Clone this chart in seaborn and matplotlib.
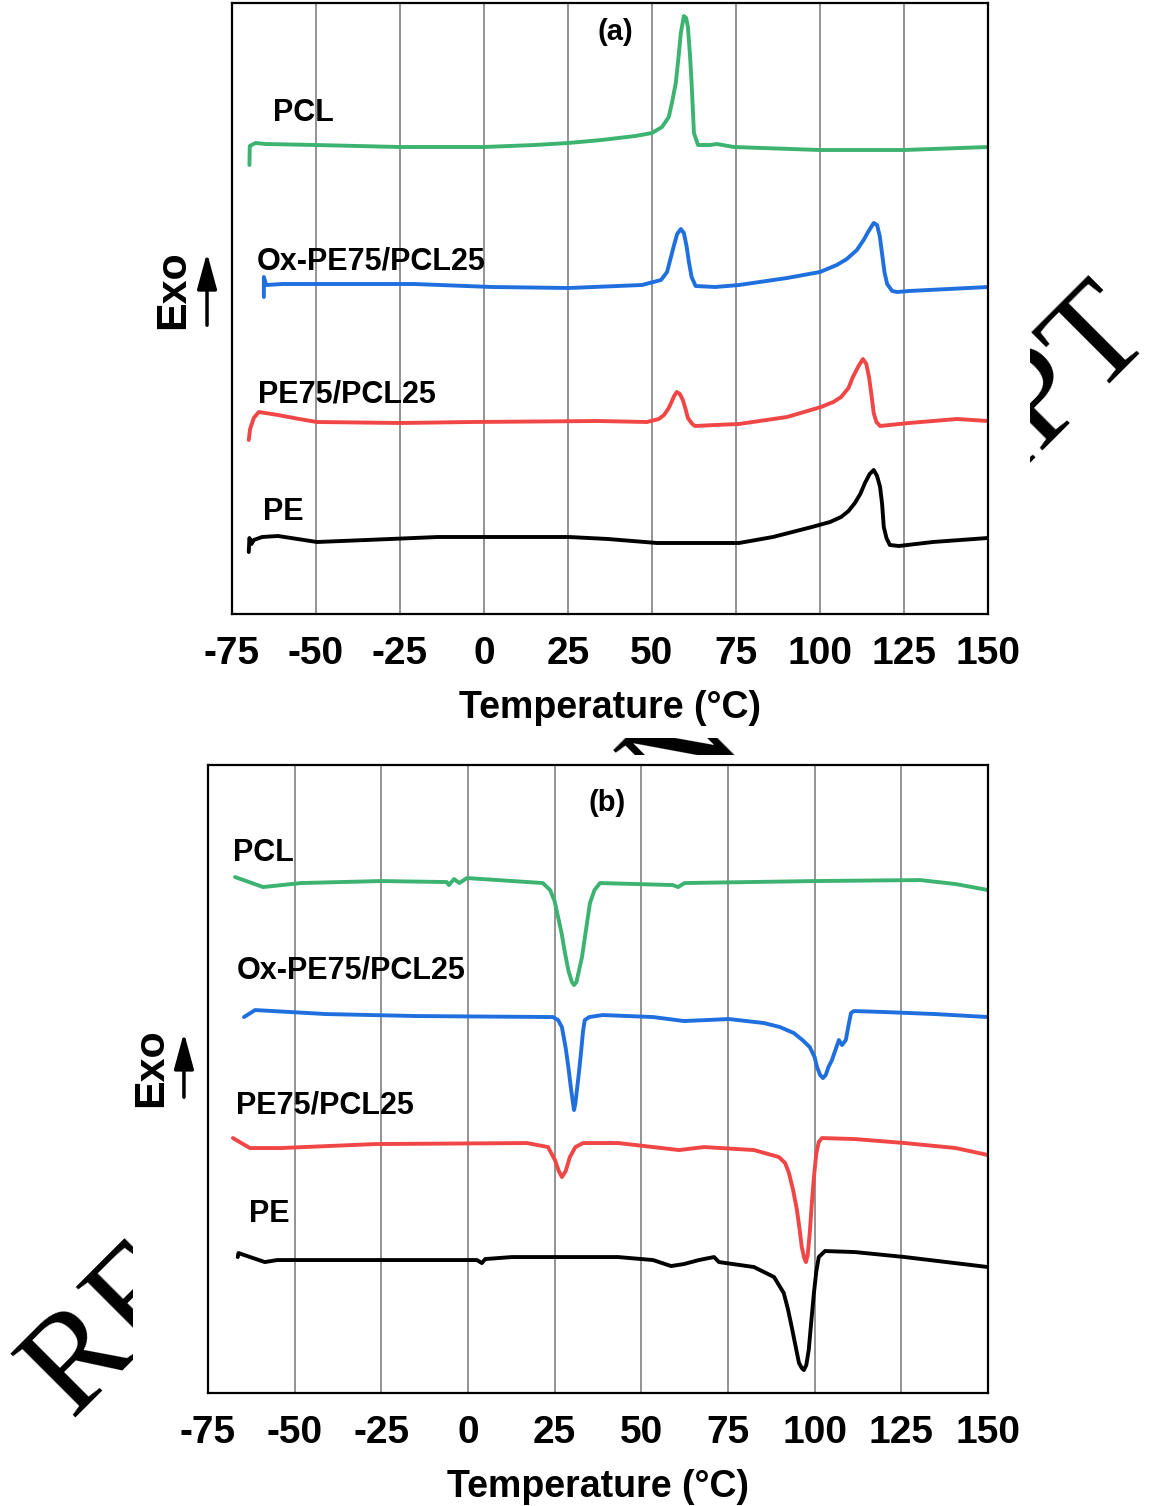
import numpy as np
import pandas as pd
import matplotlib
matplotlib.use("Agg")
import matplotlib.pyplot as plt
from matplotlib.patches import Rectangle, FancyArrowPatch
from matplotlib.ticker import MultipleLocator
import seaborn as sns

# --- DATA (DSC heat flow, arbitrary units, curves already stacked) ---

samples = ["PCL", "Ox-PE75/PCL25", "PE75/PCL25", "PE"]
temp_ticks = [-75, -50, -25, 0, 25, 50, 75, 100, 125, 150]

# (a) cooling / crystallisation scans
a_pcl_t = [-69.8, -69.7, -68, -65, -50, -25, 0, 15, 25, 35, 45, 50, 53, 55, 56, 57.1, 58,
           58.6, 59.5, 60.2, 60.7, 61.3, 61.8, 62.5, 63.7, 67.3, 69.3, 74.4, 100, 125, 150]
a_pcl_y = [449, 468, 471, 470, 469, 467, 467, 469, 471, 474, 478, 481, 487, 497, 512, 531, 560,
           581, 598, 596, 587, 560, 531, 481, 469, 469, 470, 467, 464, 464, 467]

a_ox_t = [-65.5, -65.5, -64.8, -60, -40, -20.8, 2.4, 25.3, 47, 52.7, 54.5, 55.5, 56.5, 57.5,
          58.6, 59.5, 60.3, 61, 61.8, 63, 68.8, 75.9, 90.2, 100, 105, 108, 111, 113, 114.5,
          116, 117, 117.8, 118.5, 119.2, 120, 121.5, 123, 126.5, 150]
a_ox_y = [317, 337, 329, 330, 330, 330, 327, 326, 329, 334, 342, 355, 368, 380,
          385, 381, 368, 352, 337, 328, 327, 329, 336, 342, 349, 355, 364, 374, 383,
          391, 389, 378, 360, 342, 330, 323, 322, 323, 327]

a_blend_t = [-70, -69.6, -68.5, -67, -61.3, -55, -49.7, -25, -3.6, 34, 48.5, 52, 53.6, 55, 55.7,
             56.6, 57.4, 58.3, 59.2, 60, 60.7, 62, 62.8, 68.8, 75.9, 90.2, 100.3, 104, 106.3,
             108.5, 109.8, 111.5, 112.8, 113.8, 114.6, 115.3, 116, 116.8, 117.9, 126.5, 140.8, 150]
a_blend_y = [174, 185, 196, 202, 199, 195, 192, 191, 192, 193, 192, 195, 199, 206, 211,
             218, 222, 220, 214, 205, 196, 190, 188, 189, 190, 197, 207, 212, 217,
             226, 237, 248, 255, 250, 237, 220, 201, 192, 188, 191, 195, 193]

a_pe_t = [-70, -69.8, -69.2, -68.5, -66, -61.3, -49.7, -35, -13.7, 25.3, 36.9, 51.5, 68.8, 75.9,
          86, 97.6, 103, 106.3, 108.5, 110.4, 112, 113.4, 114.8, 116, 117, 117.9, 118.5, 119,
          119.8, 120.8, 123.5, 133.6, 150]
a_pe_y = [62, 76, 70, 74, 77, 78, 72, 74, 77, 77, 75, 71, 71, 71,
          77, 87, 92, 97, 103, 111, 120, 131, 140, 144, 138, 127, 110, 87,
          76, 69, 68, 72, 76]

# (b) heating / melting scans
b_pcl_t = [-67.2, -59.1, -48.2, -25.1, -6.1, -5.5, -4, -2.5, -0.3, 21.6, 23.7, 25, 26, 27, 28,
           29, 30, 30.6, 31.3, 32, 32.9, 34, 35.2, 36.5, 38.1, 59.1, 60.6, 62.5, 100.1, 130.4,
           140.7, 150]
b_pcl_y = [516, 506, 510, 512, 511, 508, 514, 510, 515, 510, 503, 492, 476, 460, 440,
           422, 411, 408, 411, 422, 436, 462, 490, 503, 510, 508, 506, 510, 512, 513,
           509, 503]

b_ox_t = [-64.6, -61.4, -41, -14.7, 24.5, 26, 27.1, 28.2, 29, 29.7, 30.3, 30.6, 31, 31.5, 32,
          32.6, 33.2, 33.7, 35, 38.9, 53.4, 62.3, 75.3, 85.4, 90, 94, 96.5, 98.6, 100, 100.7,
          101.6, 102.4, 103.2, 104, 105, 107, 107.9, 109, 109.8, 110.5, 111.3, 120.3, 134.7, 150]
b_ox_y = [376, 383, 379, 377, 376, 373, 366, 345, 325, 305, 290, 283, 290, 305, 320,
          340, 362, 373, 376, 378, 376, 372, 374, 370, 366, 360, 353, 346, 336, 326,
          318, 315, 318, 326, 333, 353, 348, 353, 368, 380, 382, 381, 379, 376]

b_blend_t = [-67.8, -62.9, -54, -26.6, 17, 23.1, 25.1, 26.2, 27.1, 28.2, 29.4, 31, 33.2, 43.3,
             53.4, 60.9, 68.1, 82.5, 89.7, 91.5, 92.6, 93.8, 94.9, 95.7, 96.3, 97, 97.5, 98,
             98.6, 99.2, 99.8, 100.5, 101.2, 102.1, 111.6, 126, 140.7, 150]
b_blend_y = [255, 245, 245, 249, 250, 246, 233, 222, 216, 222, 236, 246, 250, 250,
             246, 243, 246, 243, 236, 230, 220, 203, 183, 163, 146, 135, 131, 138,
             160, 190, 216, 240, 251, 255, 254, 250, 245, 238]

b_pe_t = [-66.4, -66.2, -62, -58.6, -55, -19, 2.6, 4, 5, 12.7, 43.3, 53.4, 58.6, 62.3, 66.6,
          71, 72.4, 82.5, 88.3, 91.1, 92.3, 93.4, 94.5, 95.5, 96.3, 96.9, 97.6, 98.3, 99,
          99.8, 100.5, 101.2, 103, 111.6, 126, 150]
b_pe_y = [136, 140, 135, 131, 133, 133, 133, 130, 134, 136, 136, 133, 127, 129, 133,
          136, 131, 126, 116, 100, 84, 66, 47, 30, 25, 23, 28, 43, 70,
          100, 122, 136, 142, 141, 136, 126]

COLORS = {"PCL": "#3cb371", "Ox-PE75/PCL25": "#1f6fdf", "PE75/PCL25": "#f04646", "PE": "#000000"}


def to_frame(curves):
    parts = []
    for name, (t, y) in zip(samples, curves):
        parts.append(pd.DataFrame({"temp": t, "hf": y, "sample": name}))
    return pd.concat(parts, ignore_index=True)


def draw_panel(ax, df, label_pos, tag, tag_pos, ymax):
    sns.lineplot(data=df, x="temp", y="hf", hue="sample", palette=COLORS, estimator=None,
                 sort=False, lw=2.8, legend=False, ax=ax)
    ax.set_xlim(-75, 150)
    ax.set_ylim(0, ymax)
    ax.set_xticks(temp_ticks)
    ax.xaxis.set_minor_locator(MultipleLocator(12.5))
    ax.set_yticks([])
    ax.grid(axis="x", which="major", color="#8a8a8a", lw=1.3)
    ax.set_axisbelow(True)
    ax.set_ylabel("")
    ax.set_xlabel("Temperature (°C)", fontsize=27, fontweight="bold", labelpad=13)
    ax.tick_params(axis="x", which="major", direction="out", length=8.5, width=1.5,
                   labelsize=28, pad=7, top=False, color="black", labelcolor="black")
    ax.tick_params(axis="x", which="minor", direction="out", length=4.5, width=1.5,
                   top=False, color="black")
    for lab in ax.get_xticklabels():
        lab.set_fontweight("bold")
    for sp in ax.spines.values():
        sp.set_visible(True)
        sp.set_linewidth(1.6)
        sp.set_color("black")
    for name, (tx, ty) in label_pos.items():
        ax.text(tx, ty, name, fontsize=22, fontweight="bold", ha="left", va="center")
    ax.text(tag_pos[0], tag_pos[1], tag, fontsize=21, fontweight="bold", ha="center", va="center")


def exo_marker(fig, text_xy, arrow_x, y0, y1):
    fig.text(text_xy[0], text_xy[1], "Exo", rotation=90, ha="center", va="center",
             fontsize=31, fontweight="bold")
    fig.add_artist(FancyArrowPatch((arrow_x, y0), (arrow_x, y1), transform=fig.transFigure,
                                   arrowstyle="-|>,head_length=1.1,head_width=0.3",
                                   mutation_scale=20, lw=2.5, color="black"))


def main():
    sns.set_style("white")
    plt.rcParams["font.family"] = ["Liberation Sans", "DejaVu Sans"]
    plt.rcParams["axes.unicode_minus"] = False
    plt.rcParams["text.color"] = "black"
    plt.rcParams["axes.labelcolor"] = "black"

    fig = plt.figure(figsize=(11.54, 15.06), dpi=100, facecolor="white")

    # journal watermark, mostly hidden under the two figure images
    fig.text(0.063, 0.057, "REVISED MANUSCRIPT", rotation=45, rotation_mode="anchor",
             ha="left", va="baseline", fontsize=101,
             family=["Liberation Serif", "DejaVu Serif"], zorder=-2)
    fig.add_artist(Rectangle((0, 0.510), 0.8925, 0.49, transform=fig.transFigure,
                             facecolor="white", edgecolor="none", zorder=-1))
    fig.add_artist(Rectangle((0.1153, 0), 0.8847, 0.4987, transform=fig.transFigure,
                             facecolor="white", edgecolor="none", zorder=-1))

    ax_a = fig.add_axes([0.2010, 0.5923, 0.6551, 0.4057])
    ax_b = fig.add_axes([0.1802, 0.0750, 0.6759, 0.4170])

    df_a = to_frame([(a_pcl_t, a_pcl_y), (a_ox_t, a_ox_y), (a_blend_t, a_blend_y), (a_pe_t, a_pe_y)])
    df_b = to_frame([(b_pcl_t, b_pcl_y), (b_ox_t, b_ox_y), (b_blend_t, b_blend_y), (b_pe_t, b_pe_y)])

    draw_panel(ax_a, df_a,
               {"PCL": (-62.8, 501), "Ox-PE75/PCL25": (-67.6, 353),
                "PE75/PCL25": (-67.3, 220), "PE": (-65.8, 102)},
               "(a)", (39, 582), 611)
    draw_panel(ax_b, df_b,
               {"PCL": (-67.8, 540), "Ox-PE75/PCL25": (-66.6, 423),
                "PE75/PCL25": (-66.9, 288), "PE": (-63.2, 179)},
               "(b)", (40.1, 590), 628)

    exo_marker(fig, (0.1499, 0.8074), 0.1794, 0.7822, 0.8340)
    exo_marker(fig, (0.1308, 0.2908), 0.1594, 0.2696, 0.3161)

    fig.savefig("out.png", dpi=100, facecolor="white")
    plt.close(fig)


if __name__ == "__main__":
    main()
